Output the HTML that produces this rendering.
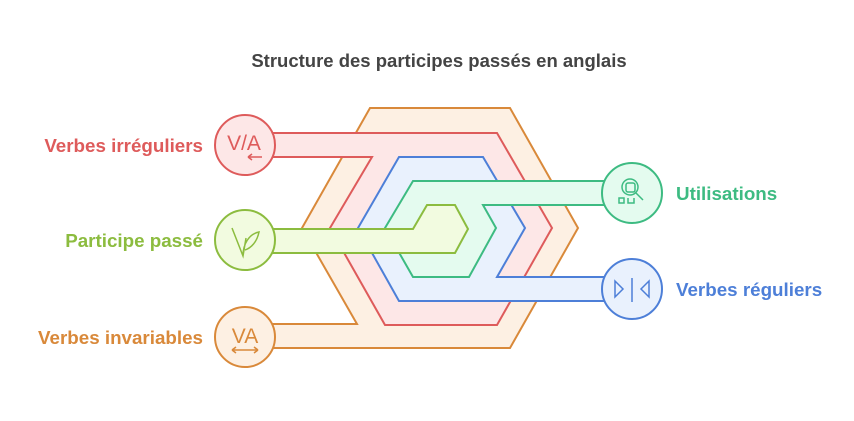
<!DOCTYPE html>
<html><head><meta charset="utf-8"><style>body{margin:0;background:#fff}</style></head>
<body>
<svg width="854" height="416" viewBox="0 0 854 416" xmlns="http://www.w3.org/2000/svg" font-family="Liberation Sans, sans-serif">
<text x="439" y="67" text-anchor="middle" font-size="18.5" font-weight="bold" fill="#444">Structure des participes passés en anglais</text>
<g stroke-width="2" stroke-linejoin="miter">
<polygon points="260,324 357,324 302,228 370,108 510,108 578,228 510,348 260,348" fill="#fdf0e3" stroke="#d9893a"/>
<polygon points="260,133 497,133 552,228 497,325 385,325 330,228 372,157 260,157" fill="#fde7e7" stroke="#de5b5b"/>
<polygon points="399,157 483,157 525,228 497,277 640,277 640,301 399,301 358,228" fill="#e9f1fd" stroke="#4d7fd8"/>
<polygon points="413,181 640,181 640,205 483,205 496,228 469,277 413,277 385,228" fill="#e4fbef" stroke="#3dbb82"/>
<polygon points="260,229 413,229 427,205 455,205 468,229 455,253 260,253" fill="#f2fbe0" stroke="#8cbc3f"/>
<circle cx="245" cy="145" r="30" fill="#fde7e7" stroke="#de5b5b"/>
<circle cx="245" cy="240" r="30" fill="#f2fbe0" stroke="#8cbc3f"/>
<circle cx="245" cy="337" r="30" fill="#fdf0e3" stroke="#d9893a"/>
<circle cx="632" cy="193" r="30" fill="#e4fbef" stroke="#3dbb82"/>
<circle cx="632" cy="289" r="30" fill="#e9f1fd" stroke="#4d7fd8"/>
</g>
<g fill="none" stroke-width="1.5">
<text x="244" y="150" text-anchor="middle" font-size="21" fill="#de5b5b">V/A</text>
<path d="M248 157h14M248 157l4-3M248 157l4 3" stroke="#de5b5b"/>
<text x="245" y="343" text-anchor="middle" font-size="21" fill="#d9893a">VA</text>
<path d="M232 350h26M232 350l4-3M232 350l4 3M258 350l-4-3M258 350l-4 3" stroke="#d9893a"/>
<path d="M232 228l11 28l3-18M243 256c0-12 6-22 16-24c-2 10-8 16-14 18" stroke="#8cbc3f"/>
<rect x="626" y="183" width="9" height="9" rx="2" stroke="#3dbb82"/>
<circle cx="630" cy="187" r="8" stroke="#3dbb82"/>
<path d="M636 193l7 7M619 198h5v5h-5zM628 198v5h6v-5" stroke="#3dbb82"/>
<path d="M615 281v16l8-8zM649 281v16l-8-8zM632 278v24" stroke="#4d7fd8" stroke-dasharray="none"/>
</g>
<g font-size="18.8" font-weight="bold">
<text x="203" y="152" text-anchor="end" fill="#de5b5b">Verbes irréguliers</text>
<text x="203" y="247" text-anchor="end" fill="#8cbc3f">Participe passé</text>
<text x="203" y="344" text-anchor="end" fill="#d9893a">Verbes invariables</text>
<text x="676" y="200" fill="#3dbb82">Utilisations</text>
<text x="676" y="296" fill="#4d7fd8">Verbes réguliers</text>
</g>
</svg>
</body></html>
